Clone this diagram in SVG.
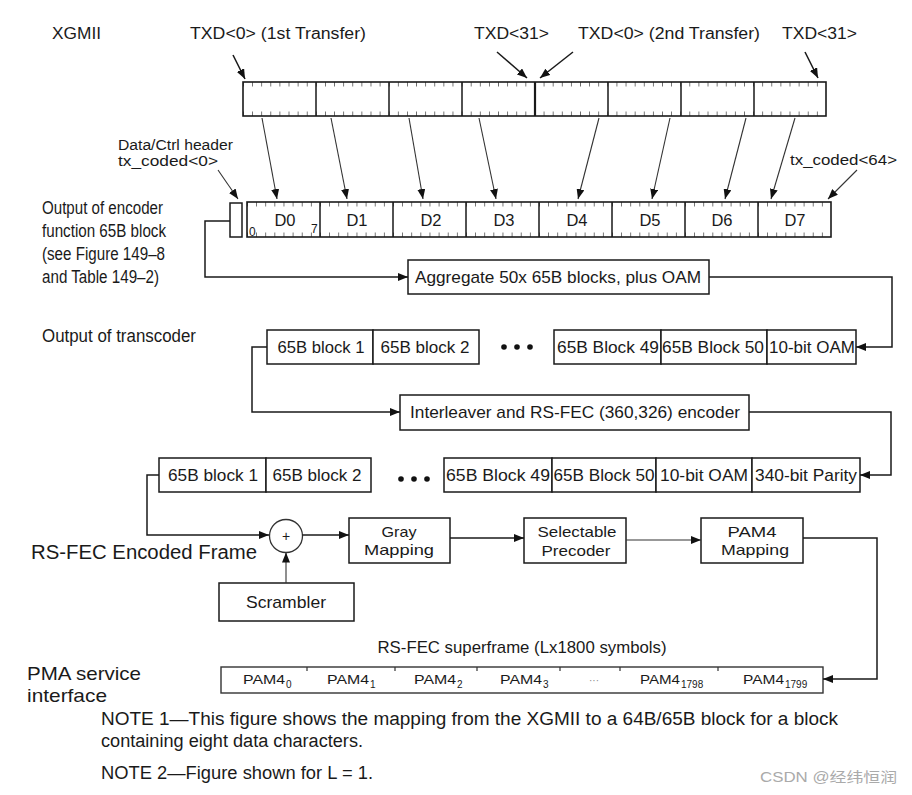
<svg xmlns="http://www.w3.org/2000/svg" width="912" height="795" viewBox="0 0 912 795">
<style>
text{font-family:"Liberation Sans",Arial,sans-serif;fill:#1a1a1a}
.t16{font-size:16px}
.t15{font-size:15.5px}
.tn{font-size:17.5px}
.tb{font-size:17px}
.t2{font-size:15px}
.bx{fill:#fff;stroke:#1a1a1a;stroke-width:1.5}
.ln{fill:none;stroke:#1a1a1a;stroke-width:1.5}
.ar{fill:none;stroke:#1a1a1a;stroke-width:1.5;marker-end:url(#ah)}
.ar1{fill:none;stroke:#333;stroke-width:1.1;marker-end:url(#ah)}
.div{stroke:#1a1a1a;stroke-width:1.5}
.mid{text-anchor:middle}
.sub{font-size:10px}
</style>
<defs>
<marker id="ah" viewBox="0 0 10 8" markerWidth="10" markerHeight="8" refX="10" refY="4" orient="auto" markerUnits="userSpaceOnUse">
<path d="M0,0 L10,4 L0,8 z" fill="#111"/>
</marker>
<pattern id="tickA" patternUnits="userSpaceOnUse" x="243" y="82" width="9.109" height="34">
<path d="M0,0 V4.5 M0,29.5 V34" stroke="#1a1a1a" stroke-width="1.2"/>
</pattern>
<pattern id="tickB" patternUnits="userSpaceOnUse" x="247" y="202" width="9.125" height="35">
<path d="M0,0 V4.5 M0,30.5 V35" stroke="#1a1a1a" stroke-width="1.2"/>
</pattern>
</defs>
<rect width="912" height="795" fill="#fff"/>

<g id="labels-top">
<text x="52" y="39" class="t16" textLength="49" lengthAdjust="spacingAndGlyphs">XGMII</text>
<text x="190" y="39" class="t16" textLength="176" lengthAdjust="spacingAndGlyphs">TXD&lt;0&gt; (1st Transfer)</text>
<text x="474" y="39" class="t16" textLength="75" lengthAdjust="spacingAndGlyphs">TXD&lt;31&gt;</text>
<text x="578" y="39" class="t16" textLength="182" lengthAdjust="spacingAndGlyphs">TXD&lt;0&gt; (2nd Transfer)</text>
<text x="782" y="39" class="t16" textLength="75" lengthAdjust="spacingAndGlyphs">TXD&lt;31&gt;</text>
</g>

<g id="xgmii-bar">
<rect x="243" y="82" width="583" height="34" fill="url(#tickA)"/>
<rect x="243" y="82" width="583" height="34" fill="none" stroke="#1a1a1a" stroke-width="1.6"/>
<path class="div" d="M316,82V116 M389,82V116 M462,82V116 M608,82V116 M681,82V116 M754,82V116"/>
<path stroke="#1a1a1a" stroke-width="2.2" d="M535,82V116"/>
</g>

<g id="header-labels">
<text x="118" y="150" class="t15" textLength="115" lengthAdjust="spacingAndGlyphs">Data/Ctrl header</text>
<text x="118" y="166" class="t15" textLength="100" lengthAdjust="spacingAndGlyphs">tx_coded&lt;0&gt;</text>
<text x="790" y="165" class="t15" textLength="107" lengthAdjust="spacingAndGlyphs">tx_coded&lt;64&gt;</text>
</g>

<g id="encoder-label">
<text x="42" y="214" class="tn" textLength="121" lengthAdjust="spacingAndGlyphs">Output of encoder</text>
<text x="42" y="237" class="tn" textLength="124" lengthAdjust="spacingAndGlyphs">function 65B block</text>
<text x="42" y="260" class="tn" textLength="123" lengthAdjust="spacingAndGlyphs">(see Figure 149–8</text>
<text x="42" y="283" class="tn" textLength="117" lengthAdjust="spacingAndGlyphs">and Table 149–2)</text>
</g>

<g id="header-box">
<rect class="bx" x="230" y="203" width="12" height="34"/>
</g>

<g id="encoder-bar">
<rect x="247" y="202" width="584" height="35" fill="url(#tickB)"/>
<rect x="247" y="202" width="584" height="35" fill="none" stroke="#1a1a1a" stroke-width="1.6"/>
<path class="div" d="M320,202V237 M393,202V237 M466,202V237 M539,202V237 M612,202V237 M685,202V237 M758,202V237"/>
<g style="font-size:16.5px">
<text x="285" y="226" class="mid">D0</text>
<text x="357" y="226" class="mid">D1</text>
<text x="431" y="226" class="mid">D2</text>
<text x="504" y="226" class="mid">D3</text>
<text x="577" y="226" class="mid">D4</text>
<text x="650" y="226" class="mid">D5</text>
<text x="722" y="226" class="mid">D6</text>
<text x="795" y="226" class="mid">D7</text>
</g>
<text x="249" y="236" style="font-size:12px">0</text>
<text x="311" y="233" style="font-size:12px">7</text>
</g>

<g id="aggregate">
<rect class="bx" x="408" y="260" width="301" height="34"/>
<text x="558" y="283" class="tb mid" textLength="286" lengthAdjust="spacingAndGlyphs">Aggregate 50x 65B blocks, plus OAM</text>
</g>

<text x="42" y="342" class="tn" textLength="154" lengthAdjust="spacingAndGlyphs">Output of transcoder</text>

<g id="transcoder-row">
<rect class="bx" x="267" y="330" width="106" height="34"/>
<rect class="bx" x="373" y="330" width="106" height="34"/>
<text x="321" y="353" class="tb mid" textLength="87" lengthAdjust="spacingAndGlyphs">65B block 1</text>
<text x="425" y="353" class="tb mid" textLength="89" lengthAdjust="spacingAndGlyphs">65B block 2</text>
<g fill="#111"><circle cx="504" cy="347" r="2.8"/><circle cx="517" cy="347" r="2.8"/><circle cx="530" cy="347" r="2.8"/></g>
<rect class="bx" x="554" y="330" width="107" height="34"/>
<rect class="bx" x="661" y="330" width="106" height="34"/>
<rect class="bx" x="767" y="330" width="89" height="34"/>
<text x="608" y="353" class="tb mid" textLength="102" lengthAdjust="spacingAndGlyphs">65B Block 49</text>
<text x="713" y="353" class="tb mid" textLength="102" lengthAdjust="spacingAndGlyphs">65B Block 50</text>
<text x="812" y="353" class="tb mid" textLength="86" lengthAdjust="spacingAndGlyphs">10-bit OAM</text>
</g>

<g id="interleaver">
<rect class="bx" x="400" y="395" width="349" height="35"/>
<text x="575" y="418" class="tb mid" textLength="330" lengthAdjust="spacingAndGlyphs">Interleaver and RS-FEC (360,326) encoder</text>
</g>

<g id="fec-row">
<rect class="bx" x="159" y="458" width="107" height="34"/>
<rect class="bx" x="266" y="458" width="105" height="34"/>
<text x="213" y="481" class="tb mid" textLength="90" lengthAdjust="spacingAndGlyphs">65B block 1</text>
<text x="317" y="481" class="tb mid" textLength="89" lengthAdjust="spacingAndGlyphs">65B block 2</text>
<g fill="#111"><circle cx="401" cy="479" r="2.8"/><circle cx="414" cy="479" r="2.8"/><circle cx="427" cy="479" r="2.8"/></g>
<rect class="bx" x="444" y="458" width="108" height="34"/>
<rect class="bx" x="552" y="458" width="104" height="34"/>
<rect class="bx" x="656" y="458" width="96" height="34"/>
<rect class="bx" x="752" y="458" width="108" height="34"/>
<text x="498" y="481" class="tb mid" textLength="104" lengthAdjust="spacingAndGlyphs">65B Block 49</text>
<text x="604" y="481" class="tb mid" textLength="101" lengthAdjust="spacingAndGlyphs">65B Block 50</text>
<text x="704" y="481" class="tb mid" textLength="88" lengthAdjust="spacingAndGlyphs">10-bit OAM</text>
<text x="806" y="481" class="tb mid" textLength="102" lengthAdjust="spacingAndGlyphs">340-bit Parity</text>
</g>

<text x="31" y="559" style="font-size:19.5px" textLength="226" lengthAdjust="spacingAndGlyphs">RS-FEC Encoded Frame</text>

<g id="xor">
<circle cx="286" cy="536" r="16.5" fill="#fff" stroke="#333" stroke-width="1.3"/>
<text x="286" y="541" class="mid" style="font-size:14px">+</text>
</g>

<g id="scrambler">
<rect class="bx" x="219" y="583" width="135" height="38"/>
<text x="286" y="608" class="tb mid" textLength="80" lengthAdjust="spacingAndGlyphs">Scrambler</text>
</g>

<g id="gray">
<rect class="bx" x="349" y="518" width="101" height="45"/>
<text x="399" y="537" class="t2 mid" textLength="35" lengthAdjust="spacingAndGlyphs">Gray</text>
<text x="399" y="555" class="t2 mid" textLength="70" lengthAdjust="spacingAndGlyphs">Mapping</text>
</g>

<g id="precoder">
<rect class="bx" x="524" y="518" width="102" height="45"/>
<text x="577" y="537" class="t2 mid" textLength="79" lengthAdjust="spacingAndGlyphs">Selectable</text>
<text x="576" y="556" class="t2 mid" textLength="69" lengthAdjust="spacingAndGlyphs">Precoder</text>
</g>

<g id="pam4map">
<rect class="bx" x="701" y="518" width="102" height="45"/>
<text x="752" y="537" class="t2 mid" textLength="49" lengthAdjust="spacingAndGlyphs">PAM4</text>
<text x="755" y="555" class="t2 mid" textLength="68" lengthAdjust="spacingAndGlyphs">Mapping</text>
</g>

<text x="522" y="653" class="tb mid" textLength="289" lengthAdjust="spacingAndGlyphs">RS-FEC superframe (Lx1800 symbols)</text>

<text x="27" y="680" style="font-size:19px" textLength="114" lengthAdjust="spacingAndGlyphs">PMA service</text>
<text x="27" y="702" style="font-size:19px" textLength="80" lengthAdjust="spacingAndGlyphs">interface</text>

<g id="superframe">
<rect x="221" y="667" width="602" height="26" fill="#fff" stroke="#333" stroke-width="1.4"/>
<path stroke="#333" stroke-width="1.2" d="M307,667V671 M395,667V671 M477,667V671 M560,667V671 M620,667V671 M718,667V671"/>
<g style="font-size:13px">
<text x="243" y="684" textLength="42" lengthAdjust="spacingAndGlyphs">PAM4</text><text x="286" y="688" class="sub">0</text>
<text x="327" y="684" textLength="42" lengthAdjust="spacingAndGlyphs">PAM4</text><text x="370" y="688" class="sub">1</text>
<text x="414" y="684" textLength="42" lengthAdjust="spacingAndGlyphs">PAM4</text><text x="457" y="688" class="sub">2</text>
<text x="500" y="684" textLength="42" lengthAdjust="spacingAndGlyphs">PAM4</text><text x="543" y="688" class="sub">3</text>
<text x="589" y="684" style="fill:#888;font-size:10px">···</text>
<text x="640" y="684" textLength="40" lengthAdjust="spacingAndGlyphs">PAM4</text><text x="681" y="688" class="sub">1798</text>
<text x="743" y="684" textLength="41" lengthAdjust="spacingAndGlyphs">PAM4</text><text x="785" y="688" class="sub">1799</text>
</g>
</g>

<g id="connectors">
<path class="ar" d="M233,55 L245,79"/>
<path class="ar" d="M497,52 L527,78"/>
<path class="ar" d="M573,52 L540,78"/>
<path class="ar" d="M805,52 L818,78"/>
<path class="ar1" d="M262,118 L277,199"/>
<path class="ar1" d="M331,118 L347,199"/>
<path class="ar1" d="M409,118 L423,199"/>
<path class="ar1" d="M479,118 L496,199"/>
<path class="ar1" d="M599,118 L578,199"/>
<path class="ar1" d="M670,118 L652,199"/>
<path class="ar1" d="M746,118 L725,199"/>
<path class="ar1" d="M795,118 L771,199"/>
<path class="ar1" d="M218,170 L238,199"/>
<path class="ar1" d="M857,170 L828,199"/>
<path class="ar" d="M230,221 H205 V277 H408"/>
<path class="ar" d="M709,277 H892 V347 H856"/>
<path class="ar" d="M267,347 H252 V412 H400"/>
<path class="ar" d="M749,412 H891 V475 H860"/>
<path class="ar" d="M159,475 H147 V535 H269"/>
<path class="ar" d="M302.5,535 H349"/>
<path class="ar1" d="M286,583 V552.5"/>
<path class="ar" d="M450,538 H524"/>
<path class="ar1" d="M626,540 H701"/>
<path class="ar" d="M803,538 H877 V679 H823"/>
</g>

<g id="notes">
<text x="101" y="725" style="font-size:18px" textLength="737" lengthAdjust="spacingAndGlyphs">NOTE 1—This figure shows the mapping from the XGMII to a 64B/65B block for a block</text>
<text x="101" y="747" style="font-size:18px" textLength="262" lengthAdjust="spacingAndGlyphs">containing eight data characters.</text>
<text x="101" y="779" style="font-size:18px" textLength="272" lengthAdjust="spacingAndGlyphs">NOTE 2—Figure shown for L = 1.</text>
</g>

<text x="760" y="782" style="font-size:14px;fill:#aaa;font-family:'Liberation Sans','Noto Sans CJK SC',sans-serif" textLength="137" lengthAdjust="spacingAndGlyphs">CSDN @经纬恒润</text>
</svg>
